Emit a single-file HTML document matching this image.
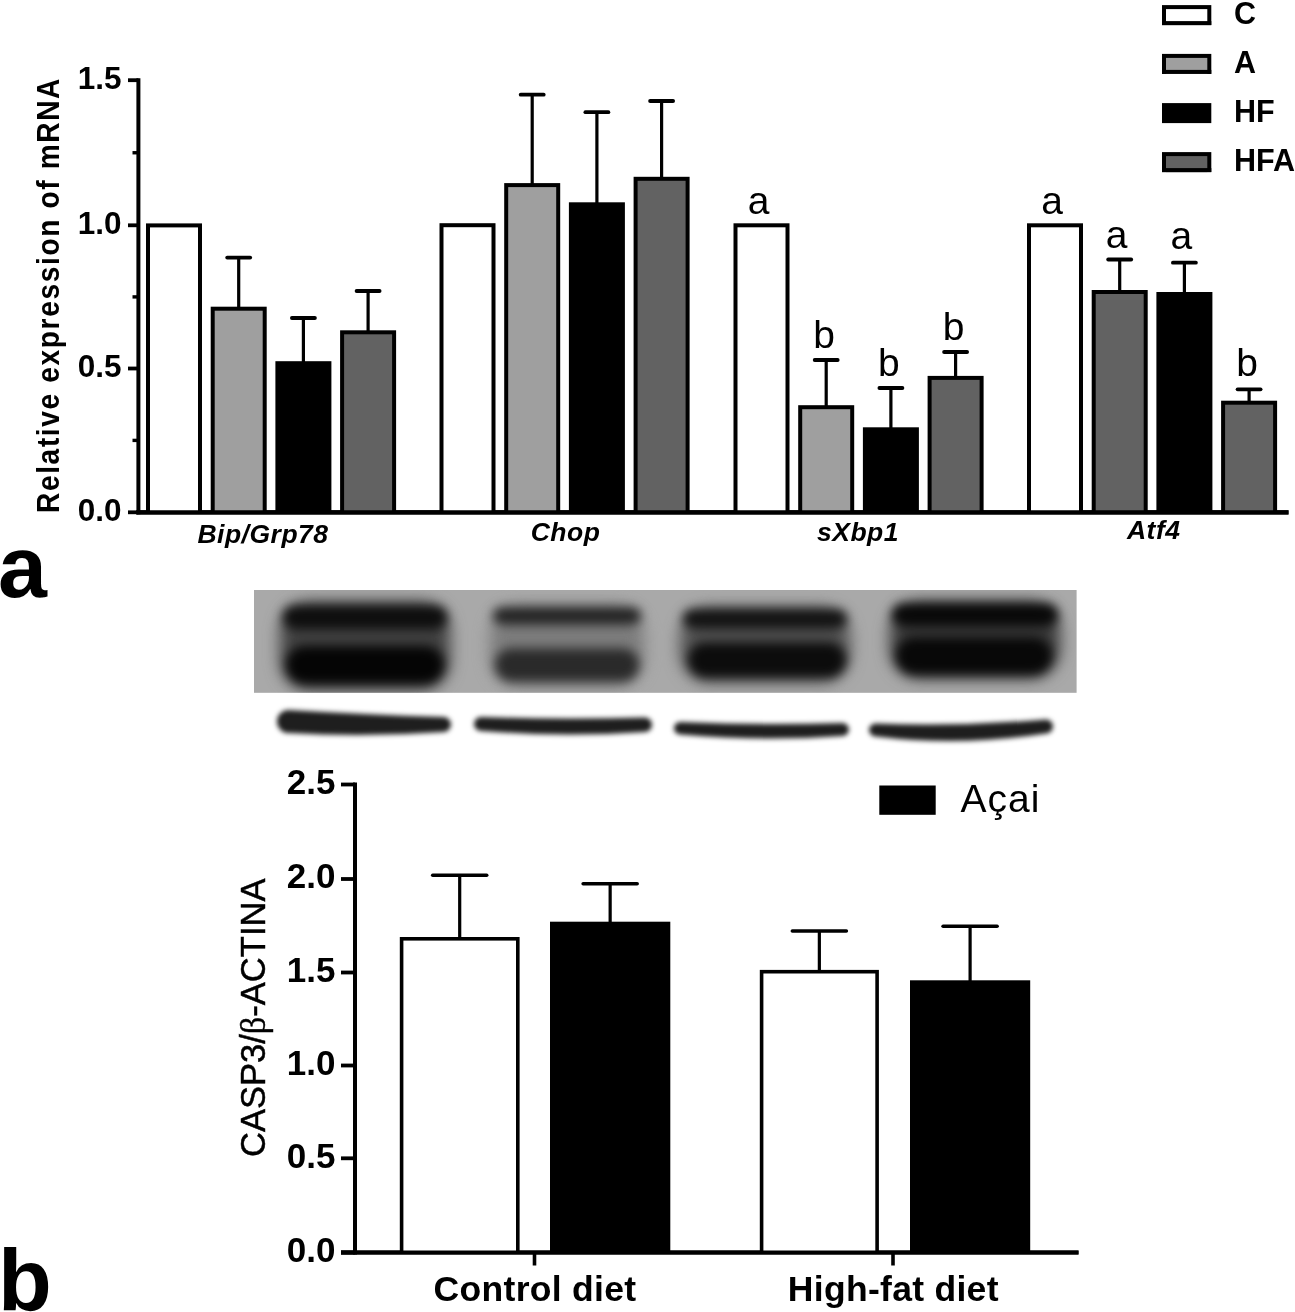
<!DOCTYPE html>
<html><head><meta charset="utf-8"><style>
html,body{margin:0;padding:0;background:#fff;}
body{width:1295px;height:1312px;overflow:hidden;}
svg{display:block;}
#w{width:1295px;height:1312px;filter:grayscale(1);}
</style></head><body><div id="w">
<svg width="1295" height="1312" viewBox="0 0 1295 1312">
<rect x="0" y="0" width="1295" height="1312" fill="#fff"/>
<line x1="138.40" y1="78.20" x2="138.40" y2="514.30" stroke="#000" stroke-width="4"/>
<line x1="128.00" y1="80.20" x2="138.40" y2="80.20" stroke="#000" stroke-width="3.8" stroke-linecap="butt"/>
<line x1="128.00" y1="225.30" x2="138.40" y2="225.30" stroke="#000" stroke-width="3.8" stroke-linecap="butt"/>
<line x1="128.00" y1="368.50" x2="138.40" y2="368.50" stroke="#000" stroke-width="3.8" stroke-linecap="butt"/>
<line x1="128.00" y1="512.30" x2="138.40" y2="512.30" stroke="#000" stroke-width="3.8" stroke-linecap="butt"/>
<line x1="132.50" y1="152.75" x2="138.40" y2="152.75" stroke="#000" stroke-width="3.4" stroke-linecap="butt"/>
<line x1="132.50" y1="296.90" x2="138.40" y2="296.90" stroke="#000" stroke-width="3.4" stroke-linecap="butt"/>
<line x1="132.50" y1="440.40" x2="138.40" y2="440.40" stroke="#000" stroke-width="3.4" stroke-linecap="butt"/>
<line x1="136.40" y1="512.30" x2="1288.50" y2="512.30" stroke="#000" stroke-width="4.2" stroke-linecap="butt"/>
<text x="121.50" y="88.70" font-family='"Liberation Sans", sans-serif' font-size="31.5" font-weight="bold" font-style="normal" text-anchor="end" >1.5</text>
<text x="121.50" y="233.80" font-family='"Liberation Sans", sans-serif' font-size="31.5" font-weight="bold" font-style="normal" text-anchor="end" >1.0</text>
<text x="121.50" y="377.00" font-family='"Liberation Sans", sans-serif' font-size="31.5" font-weight="bold" font-style="normal" text-anchor="end" >0.5</text>
<text x="121.50" y="520.80" font-family='"Liberation Sans", sans-serif' font-size="31.5" font-weight="bold" font-style="normal" text-anchor="end" >0.0</text>
<text transform="translate(58.6,295.0) rotate(-90) scale(0.9,1)" x="0" y="0" font-family='"Liberation Sans", sans-serif' font-size="31.2" font-weight="bold" text-anchor="middle" letter-spacing="1.83">Relative expression of mRNA</text>
<rect x="146.00" y="223.40" width="56.00" height="288.90" fill="#000"/>
<rect x="150.00" y="227.40" width="48.00" height="284.90" fill="#fff"/>
<line x1="238.70" y1="257.60" x2="238.70" y2="308.70" stroke="#000" stroke-width="3.2"/>
<line x1="227.20" y1="257.60" x2="250.20" y2="257.60" stroke="#000" stroke-width="3.8" stroke-linecap="round"/>
<rect x="210.70" y="306.70" width="56.00" height="205.60" fill="#000"/>
<rect x="214.70" y="310.70" width="48.00" height="201.60" fill="#9f9f9f"/>
<line x1="303.40" y1="318.00" x2="303.40" y2="363.20" stroke="#000" stroke-width="3.2"/>
<line x1="291.90" y1="318.00" x2="314.90" y2="318.00" stroke="#000" stroke-width="3.8" stroke-linecap="round"/>
<rect x="275.40" y="361.20" width="56.00" height="151.10" fill="#000"/>
<line x1="368.10" y1="291.00" x2="368.10" y2="332.30" stroke="#000" stroke-width="3.2"/>
<line x1="356.60" y1="291.00" x2="379.60" y2="291.00" stroke="#000" stroke-width="3.8" stroke-linecap="round"/>
<rect x="340.10" y="330.30" width="56.00" height="182.00" fill="#000"/>
<rect x="344.10" y="334.30" width="48.00" height="178.00" fill="#626262"/>
<rect x="439.50" y="223.20" width="56.00" height="289.10" fill="#000"/>
<rect x="443.50" y="227.20" width="48.00" height="285.10" fill="#fff"/>
<line x1="532.20" y1="94.70" x2="532.20" y2="185.10" stroke="#000" stroke-width="3.2"/>
<line x1="520.70" y1="94.70" x2="543.70" y2="94.70" stroke="#000" stroke-width="3.8" stroke-linecap="round"/>
<rect x="504.20" y="183.10" width="56.00" height="329.20" fill="#000"/>
<rect x="508.20" y="187.10" width="48.00" height="325.20" fill="#9f9f9f"/>
<line x1="596.90" y1="112.20" x2="596.90" y2="204.30" stroke="#000" stroke-width="3.2"/>
<line x1="585.40" y1="112.20" x2="608.40" y2="112.20" stroke="#000" stroke-width="3.8" stroke-linecap="round"/>
<rect x="568.90" y="202.30" width="56.00" height="310.00" fill="#000"/>
<line x1="661.60" y1="101.00" x2="661.60" y2="178.80" stroke="#000" stroke-width="3.2"/>
<line x1="650.10" y1="101.00" x2="673.10" y2="101.00" stroke="#000" stroke-width="3.8" stroke-linecap="round"/>
<rect x="633.60" y="176.80" width="56.00" height="335.50" fill="#000"/>
<rect x="637.60" y="180.80" width="48.00" height="331.50" fill="#626262"/>
<rect x="733.50" y="223.30" width="56.00" height="289.00" fill="#000"/>
<rect x="737.50" y="227.30" width="48.00" height="285.00" fill="#fff"/>
<line x1="826.20" y1="360.00" x2="826.20" y2="407.20" stroke="#000" stroke-width="3.2"/>
<line x1="814.70" y1="360.00" x2="837.70" y2="360.00" stroke="#000" stroke-width="3.8" stroke-linecap="round"/>
<rect x="798.20" y="405.20" width="56.00" height="107.10" fill="#000"/>
<rect x="802.20" y="409.20" width="48.00" height="103.10" fill="#9f9f9f"/>
<line x1="890.90" y1="388.00" x2="890.90" y2="429.30" stroke="#000" stroke-width="3.2"/>
<line x1="879.40" y1="388.00" x2="902.40" y2="388.00" stroke="#000" stroke-width="3.8" stroke-linecap="round"/>
<rect x="862.90" y="427.30" width="56.00" height="85.00" fill="#000"/>
<line x1="955.60" y1="352.00" x2="955.60" y2="377.90" stroke="#000" stroke-width="3.2"/>
<line x1="944.10" y1="352.00" x2="967.10" y2="352.00" stroke="#000" stroke-width="3.8" stroke-linecap="round"/>
<rect x="927.60" y="375.90" width="56.00" height="136.40" fill="#000"/>
<rect x="931.60" y="379.90" width="48.00" height="132.40" fill="#626262"/>
<rect x="1027.00" y="223.30" width="56.00" height="289.00" fill="#000"/>
<rect x="1031.00" y="227.30" width="48.00" height="285.00" fill="#fff"/>
<line x1="1119.70" y1="259.50" x2="1119.70" y2="292.00" stroke="#000" stroke-width="3.2"/>
<line x1="1108.20" y1="259.50" x2="1131.20" y2="259.50" stroke="#000" stroke-width="3.8" stroke-linecap="round"/>
<rect x="1091.70" y="290.00" width="56.00" height="222.30" fill="#000"/>
<rect x="1095.70" y="294.00" width="48.00" height="218.30" fill="#626262"/>
<line x1="1184.40" y1="262.70" x2="1184.40" y2="294.00" stroke="#000" stroke-width="3.2"/>
<line x1="1172.90" y1="262.70" x2="1195.90" y2="262.70" stroke="#000" stroke-width="3.8" stroke-linecap="round"/>
<rect x="1156.40" y="292.00" width="56.00" height="220.30" fill="#000"/>
<line x1="1249.10" y1="389.30" x2="1249.10" y2="402.70" stroke="#000" stroke-width="3.2"/>
<line x1="1237.60" y1="389.30" x2="1260.60" y2="389.30" stroke="#000" stroke-width="3.8" stroke-linecap="round"/>
<rect x="1221.10" y="400.70" width="56.00" height="111.60" fill="#000"/>
<rect x="1225.10" y="404.70" width="48.00" height="107.60" fill="#626262"/>
<line x1="136.40" y1="512.30" x2="1288.50" y2="512.30" stroke="#000" stroke-width="4.2" stroke-linecap="butt"/>
<text x="758.50" y="213.50" font-family='"Liberation Sans", sans-serif' font-size="39" font-weight="normal" font-style="normal" text-anchor="middle" >a</text>
<text x="824.20" y="347.50" font-family='"Liberation Sans", sans-serif' font-size="39" font-weight="normal" font-style="normal" text-anchor="middle" >b</text>
<text x="888.90" y="375.50" font-family='"Liberation Sans", sans-serif' font-size="39" font-weight="normal" font-style="normal" text-anchor="middle" >b</text>
<text x="953.60" y="339.50" font-family='"Liberation Sans", sans-serif' font-size="39" font-weight="normal" font-style="normal" text-anchor="middle" >b</text>
<text x="1052.00" y="213.50" font-family='"Liberation Sans", sans-serif' font-size="39" font-weight="normal" font-style="normal" text-anchor="middle" >a</text>
<text x="1116.70" y="248.00" font-family='"Liberation Sans", sans-serif' font-size="39" font-weight="normal" font-style="normal" text-anchor="middle" >a</text>
<text x="1181.40" y="249.00" font-family='"Liberation Sans", sans-serif' font-size="39" font-weight="normal" font-style="normal" text-anchor="middle" >a</text>
<text x="1247.10" y="375.50" font-family='"Liberation Sans", sans-serif' font-size="39" font-weight="normal" font-style="normal" text-anchor="middle" >b</text>
<text x="263.00" y="542.50" font-family='"Liberation Sans", sans-serif' font-size="26.5" font-weight="bold" font-style="italic" text-anchor="middle" letter-spacing="0.5">Bip/Grp78</text>
<text x="565.60" y="541.00" font-family='"Liberation Sans", sans-serif' font-size="26.5" font-weight="bold" font-style="italic" text-anchor="middle" letter-spacing="0.5">Chop</text>
<text x="858.00" y="541.00" font-family='"Liberation Sans", sans-serif' font-size="26.5" font-weight="bold" font-style="italic" text-anchor="middle" letter-spacing="0.5">sXbp1</text>
<text x="1153.70" y="538.50" font-family='"Liberation Sans", sans-serif' font-size="26.5" font-weight="bold" font-style="italic" text-anchor="middle" letter-spacing="0.5">Atf4</text>
<rect x="1162.00" y="5.10" width="49.30" height="20.00" fill="#000"/>
<rect x="1166.00" y="9.10" width="41.30" height="16.00" fill="#fff"/>
<rect x="1162.00" y="21.10" width="49.30" height="4.00" fill="#000"/>
<text x="1234.00" y="24.30" font-family='"Liberation Sans", sans-serif' font-size="30.5" font-weight="bold" font-style="normal" text-anchor="start" >C</text>
<rect x="1162.00" y="53.90" width="49.30" height="20.00" fill="#000"/>
<rect x="1166.00" y="57.90" width="41.30" height="16.00" fill="#9f9f9f"/>
<rect x="1162.00" y="69.90" width="49.30" height="4.00" fill="#000"/>
<text x="1234.00" y="73.10" font-family='"Liberation Sans", sans-serif' font-size="30.5" font-weight="bold" font-style="normal" text-anchor="start" >A</text>
<rect x="1162.00" y="103.10" width="49.30" height="20.00" fill="#000"/>
<text x="1234.00" y="122.30" font-family='"Liberation Sans", sans-serif' font-size="30.5" font-weight="bold" font-style="normal" text-anchor="start" >HF</text>
<rect x="1162.00" y="152.10" width="49.30" height="20.00" fill="#000"/>
<rect x="1166.00" y="156.10" width="41.30" height="16.00" fill="#626262"/>
<rect x="1162.00" y="168.10" width="49.30" height="4.00" fill="#000"/>
<text x="1234.00" y="171.30" font-family='"Liberation Sans", sans-serif' font-size="30.5" font-weight="bold" font-style="normal" text-anchor="start" >HFA</text>
<text x="-2.00" y="597.00" font-family='"Liberation Sans", sans-serif' font-size="88" font-weight="bold" font-style="normal" text-anchor="start" >a</text>
<text x="-2.00" y="1310.00" font-family='"Liberation Sans", sans-serif' font-size="88" font-weight="bold" font-style="normal" text-anchor="start" >b</text>
<defs>
<filter id="bl" x="-30%" y="-100%" width="160%" height="300%" color-interpolation-filters="sRGB"><feGaussianBlur stdDeviation="8"/></filter>
<filter id="bl3" x="-30%" y="-100%" width="160%" height="300%" color-interpolation-filters="sRGB"><feGaussianBlur stdDeviation="5.5"/></filter>
<filter id="bl2" x="-20%" y="-100%" width="140%" height="300%" color-interpolation-filters="sRGB"><feGaussianBlur stdDeviation="2.6"/></filter>
<clipPath id="blotclip"><rect x="254" y="590" width="822.6" height="102.8"/></clipPath>
</defs>
<rect x="254.00" y="590.00" width="822.60" height="102.80" fill="#a9a9a9"/>
<g clip-path="url(#blotclip)">
<g filter="url(#bl)">
<rect x="280" y="602" width="170" height="88" rx="30" ry="30" fill="#404040"/>
<rect x="490" y="606" width="154" height="80" rx="30" ry="30" fill="#7c7c7c"/>
<rect x="680" y="608" width="170" height="74" rx="30" ry="30" fill="#505050"/>
<rect x="890" y="602" width="170" height="76" rx="30" ry="30" fill="#383838"/>
</g>
<g filter="url(#bl3)">
<rect x="283" y="606.0" width="164" height="23" rx="11.5" fill="#0e0e0e"/>
<rect x="493" y="607.5" width="148" height="17" rx="8.5" fill="#222222"/>
<rect x="683" y="609.5" width="164" height="19" rx="9.5" fill="#121212"/>
<rect x="892" y="604.0" width="166" height="22" rx="11.0" fill="#080808"/>
<rect x="286" y="646.0" width="158" height="38" rx="19.0" fill="#050505"/>
<rect x="495" y="648.5" width="144" height="33" rx="16.5" fill="#2a2a2a"/>
<rect x="688" y="642.5" width="158" height="35" rx="17.5" fill="#0c0c0c"/>
<rect x="896" y="637.5" width="156" height="37" rx="18.5" fill="#080808"/>
</g>
</g>
<g filter="url(#bl2)" fill="#1e1e1e">
<path d="M288.5,710 Q364.0,714.5 443.5,717 A7.5,7.5 0 0 1 443.5,732 Q364.0,737.5 288.5,733 A11.5,11.5 0 0 1 288.5,710 Z"/>
<path d="M481.0,717 Q563.0,719.75 644.75,717.5 A7.25,7.25 0 0 1 644.75,732 Q563.0,737.5 481.0,731 A7.0,7.0 0 0 1 481.0,717 Z"/>
<path d="M680.25,722 Q761.5,725.5 842.5,723 A6.5,6.5 0 0 1 842.5,736 Q761.5,741.75 680.25,734.5 A6.25,6.25 0 0 1 680.25,722 Z"/>
<path d="M875.5,723.5 Q961.0,726.5 1046.0,719.5 A7.0,7.0 0 0 1 1046.0,733.5 Q961.0,747.0 875.5,736.5 A6.5,6.5 0 0 1 875.5,723.5 Z"/>
</g>
<line x1="355.00" y1="782.50" x2="355.00" y2="1254.50" stroke="#000" stroke-width="4"/>
<line x1="341.00" y1="784.50" x2="355.00" y2="784.50" stroke="#000" stroke-width="3.8" stroke-linecap="butt"/>
<text x="335.50" y="793.80" font-family='"Liberation Sans", sans-serif' font-size="35" font-weight="bold" font-style="normal" text-anchor="end" letter-spacing="0">2.5</text>
<line x1="341.00" y1="879.00" x2="355.00" y2="879.00" stroke="#000" stroke-width="3.8" stroke-linecap="butt"/>
<text x="335.50" y="888.30" font-family='"Liberation Sans", sans-serif' font-size="35" font-weight="bold" font-style="normal" text-anchor="end" letter-spacing="0">2.0</text>
<line x1="341.00" y1="972.50" x2="355.00" y2="972.50" stroke="#000" stroke-width="3.8" stroke-linecap="butt"/>
<text x="335.50" y="981.80" font-family='"Liberation Sans", sans-serif' font-size="35" font-weight="bold" font-style="normal" text-anchor="end" letter-spacing="0">1.5</text>
<line x1="341.00" y1="1065.50" x2="355.00" y2="1065.50" stroke="#000" stroke-width="3.8" stroke-linecap="butt"/>
<text x="335.50" y="1074.80" font-family='"Liberation Sans", sans-serif' font-size="35" font-weight="bold" font-style="normal" text-anchor="end" letter-spacing="0">1.0</text>
<line x1="341.00" y1="1158.30" x2="355.00" y2="1158.30" stroke="#000" stroke-width="3.8" stroke-linecap="butt"/>
<text x="335.50" y="1167.60" font-family='"Liberation Sans", sans-serif' font-size="35" font-weight="bold" font-style="normal" text-anchor="end" letter-spacing="0">0.5</text>
<line x1="341.00" y1="1252.50" x2="355.00" y2="1252.50" stroke="#000" stroke-width="3.8" stroke-linecap="butt"/>
<text x="335.50" y="1261.80" font-family='"Liberation Sans", sans-serif' font-size="35" font-weight="bold" font-style="normal" text-anchor="end" letter-spacing="0">0.0</text>
<line x1="341.00" y1="1252.50" x2="1078.50" y2="1252.50" stroke="#000" stroke-width="4.2" stroke-linecap="butt"/>
<line x1="534.50" y1="1252.50" x2="534.50" y2="1265.50" stroke="#000" stroke-width="3.6"/>
<line x1="893.00" y1="1252.50" x2="893.00" y2="1265.50" stroke="#000" stroke-width="3.6"/>
<line x1="459.70" y1="875.30" x2="459.70" y2="939.00" stroke="#000" stroke-width="3.2"/>
<line x1="432.70" y1="875.30" x2="486.70" y2="875.30" stroke="#000" stroke-width="3.6" stroke-linecap="round"/>
<rect x="399.80" y="937.00" width="119.80" height="315.50" fill="#000"/>
<rect x="403.40" y="940.60" width="112.60" height="311.90" fill="#fff"/>
<line x1="610.15" y1="883.70" x2="610.15" y2="923.70" stroke="#000" stroke-width="3.2"/>
<line x1="583.15" y1="883.70" x2="637.15" y2="883.70" stroke="#000" stroke-width="3.6" stroke-linecap="round"/>
<rect x="550.00" y="921.70" width="120.30" height="330.80" fill="#000"/>
<line x1="819.35" y1="931.00" x2="819.35" y2="971.90" stroke="#000" stroke-width="3.2"/>
<line x1="792.35" y1="931.00" x2="846.35" y2="931.00" stroke="#000" stroke-width="3.6" stroke-linecap="round"/>
<rect x="759.80" y="969.90" width="119.10" height="282.60" fill="#000"/>
<rect x="763.40" y="973.50" width="111.90" height="279.00" fill="#fff"/>
<line x1="970.10" y1="926.30" x2="970.10" y2="982.30" stroke="#000" stroke-width="3.2"/>
<line x1="943.10" y1="926.30" x2="997.10" y2="926.30" stroke="#000" stroke-width="3.6" stroke-linecap="round"/>
<rect x="910.00" y="980.30" width="120.20" height="272.20" fill="#000"/>
<line x1="341.00" y1="1252.50" x2="1078.50" y2="1252.50" stroke="#000" stroke-width="4.2" stroke-linecap="butt"/>
<text transform="translate(264.6,1017.8) rotate(-90) scale(0.965,1)" x="0" y="0" font-family='"Liberation Sans", sans-serif' font-size="35.8" font-weight="normal" text-anchor="middle" stroke="#000" stroke-width="0.45">CASP3/<tspan font-family='"Liberation Serif", serif'>&#946;</tspan>-ACTINA</text>
<rect x="879.30" y="785.50" width="56.40" height="29.30" fill="#000"/>
<text x="960.50" y="811.70" font-family='"Liberation Sans", sans-serif' font-size="39" font-weight="normal" font-style="normal" text-anchor="start" letter-spacing="1">A&#231;ai</text>
<text x="535.00" y="1300.50" font-family='"Liberation Sans", sans-serif' font-size="35.5" font-weight="bold" font-style="normal" text-anchor="middle" letter-spacing="0.3">Control diet</text>
<text x="893.30" y="1301.00" font-family='"Liberation Sans", sans-serif' font-size="35.5" font-weight="bold" font-style="normal" text-anchor="middle" letter-spacing="0.3">High-fat diet</text>
</svg></div>
</body></html>
